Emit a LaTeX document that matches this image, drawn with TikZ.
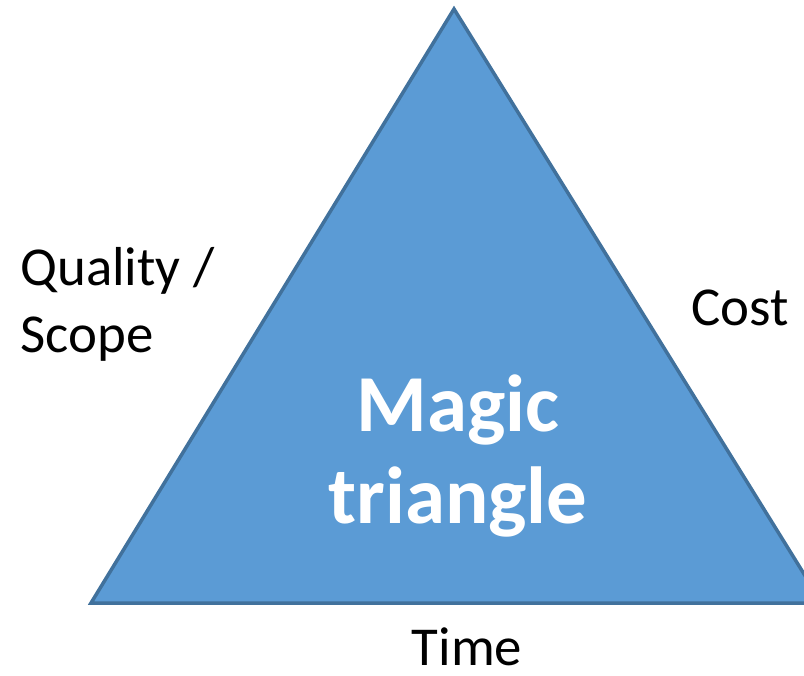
\documentclass[tikz,border=0pt]{standalone}
\usepackage{fontspec}
\setmainfont{Carlito}
\usetikzlibrary{positioning}
\definecolor{triblue}{HTML}{5B9BD5}
\definecolor{triedge}{HTML}{41719C}

\begin{document}
\begin{tikzpicture}[x=0.01cm, y=-0.01cm]

        % Setup the styles for the triangle and the labels
        \tikzset{tri style/.style={fill=triblue,
                                   draw=triedge,
                                   line width=1pt,
                                   line join=miter},
                 side label/.style={font=\fontsize{15.6}{19}\selectfont,
                                    align=left, anchor=base},
                 inner label/.style={font=\fontsize{23}{26}\selectfont\bfseries,
                                     text=white, align=center, anchor=base}}

        % Fix the page size and clip the right corner
        \useasboundingbox (0, 0) rectangle (804, 675);
        \clip (0, 0) rectangle (804, 675);

        % Draw the triangle
        \coordinate (top)   at (454, 9);
        \coordinate (left)  at (91, 603);
        \coordinate (right) at (822, 603);
        \draw[tri style] (top) -- (left) -- (right) -- cycle;

        % Put the labels (multi-line nodes sit on their last line)
        \node[inner label] at (458, 523) (magic) {Magic\\triangle};
        \node[side label, anchor=base west] at (8, 352) (quality) {Quality /\\Scope};
        \node[side label] at (740, 325) (cost) {Cost};
        \node[side label] at (467, 665) (time) {Time};
    \end{tikzpicture}
\end{document}
